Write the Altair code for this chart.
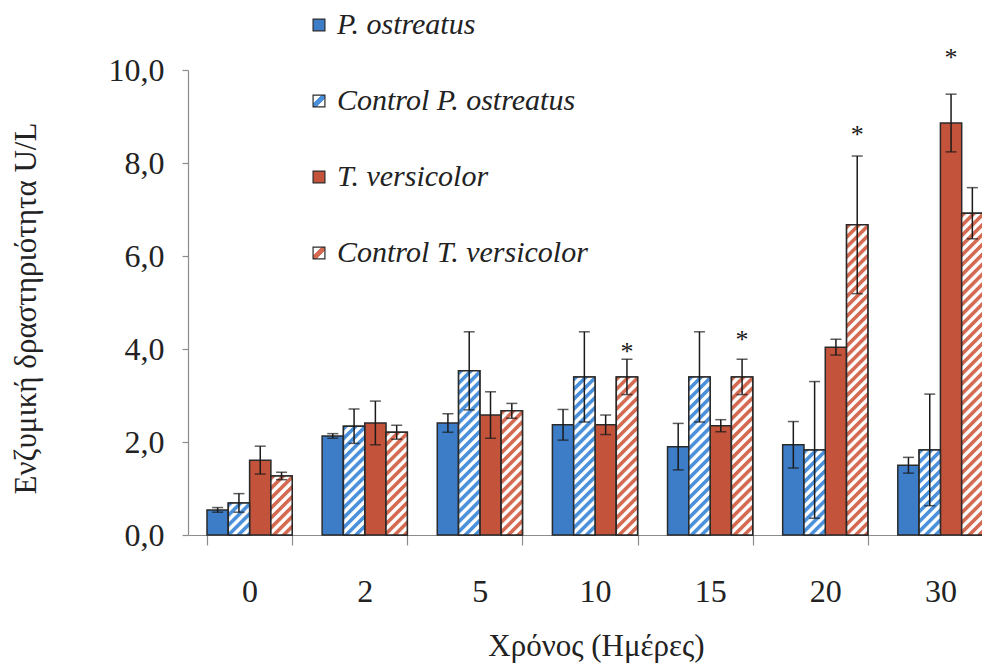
import altair as alt
import pandas as pd
from urllib.parse import quote

# ---------------- data ----------------
days = ["0", "2", "5", "10", "15", "20", "30"]
series = ["P. ostreatus", "Control P. ostreatus", "T. versicolor", "Control T. versicolor"]

po = [0.54, 2.13, 2.41, 2.37, 1.90, 1.94, 1.50]
po_err = [0.05, 0.05, 0.20, 0.33, 0.50, 0.50, 0.17]
cpo = [0.69, 2.34, 3.53, 3.40, 3.40, 1.83, 1.83]
cpo_err = [0.20, 0.37, 0.84, 0.97, 0.97, 1.47, 1.20]
tv = [1.61, 2.41, 2.58, 2.37, 2.35, 4.04, 8.86]
tv_err = [0.30, 0.47, 0.50, 0.21, 0.13, 0.17, 0.62]
ctv = [1.27, 2.21, 2.67, 3.40, 3.40, 6.67, 6.92]
ctv_err = [0.08, 0.15, 0.16, 0.38, 0.38, 1.48, 0.55]

star_days = ["10", "15", "20", "30"]
star_series = ["Control T. versicolor", "Control T. versicolor", "Control T. versicolor", "T. versicolor"]
star_y = [4.04, 4.30, 8.71, 10.37]

# ---------------- styles ----------------
BLUE = "#3d7cc7"
RED = "#c4533b"
BLUE_H = "#4b90da"
RED_H = "#d46a52"
EDGE = "#2a2a2a"
FONT = "Liberation Serif, Times New Roman, serif"


def hatch_uri(color):
    svg = (
        "<svg xmlns='http://www.w3.org/2000/svg' width='100%' height='100%'>"
        "<defs><pattern id='h' width='7' height='7' patternUnits='userSpaceOnUse' "
        "patternTransform='rotate(45)'>"
        "<rect width='7' height='7' fill='white'/>"
        f"<rect width='3.6' height='7' fill='{color}'/>"
        "</pattern></defs>"
        "<rect width='100%' height='100%' fill='url(#h)'/></svg>"
    )
    return "data:image/svg+xml," + quote(svg)


def grad_expr(color):
    return (
        "{gradient: 'linear', x1: 0, y1: 0, x2: 1, y2: 1, stops: ["
        "{offset: 0, color: 'white'}, {offset: 0.36, color: 'white'}, "
        f"{{offset: 0.36, color: '{color}'}}, {{offset: 0.64, color: '{color}'}}, "
        "{offset: 0.64, color: 'white'}, {offset: 1, color: 'white'}]}"
    )


vals = {series[0]: (po, po_err), series[1]: (cpo, cpo_err),
        series[2]: (tv, tv_err), series[3]: (ctv, ctv_err)}
hatch_color = {series[1]: BLUE_H, series[3]: RED_H}

rows = []
for s in series:
    v, e = vals[s]
    for d, val, err in zip(days, v, e):
        rows.append({
            "day": d, "series": s, "value": val, "err": err,
            "lo": val - err, "hi": val + err,
            "hatched": s in hatch_color,
            "url": hatch_uri(hatch_color[s]) if s in hatch_color else "",
        })
df = pd.DataFrame(rows)
df_star = pd.DataFrame({"day": star_days, "series": star_series, "sy": star_y})

x_enc = alt.X(
    "day:N", sort=days,
    scale=alt.Scale(paddingInner=0.26, paddingOuter=0.165, range=[0, 814]),
    axis=alt.Axis(
        title="Χρόνος (Ημέρες)", labelAngle=0, tickBand="extent", tickSize=10,
        labelPadding=31, labelFontSize=32, labelFont=FONT, labelColor="#222",
        titleFont=FONT, titleFontSize=31, titleFontWeight="normal", titleColor="#222",
        titleX=408, titleY=111, titleBaseline="middle", titleAlign="center",
        domainColor="#8c8c8c", tickColor="#8c8c8c", domainWidth=1.2, tickWidth=1.2,
    ),
)
xo_enc = alt.XOffset("series:N", sort=series,
                     scale=alt.Scale(domain=series, paddingInner=0, paddingOuter=0))
y_scale = alt.Scale(domain=[0, 10], nice=False, zero=True)
y_axis = alt.Axis(
    values=[0, 2, 4, 6, 8, 10],
    labelExpr="replace(format(datum.value, '.1f'), '.', ',')",
    tickSize=6, labelPadding=18, labelFontSize=32, labelFont=FONT, labelColor="#222",
    title="Ενζυμική δραστηριότητα  U/L", titleFont=FONT, titleFontSize=31,
    titleFontWeight="normal", titleColor="#222",
    titleX=-162, titleY=238, titleAngle=270, titleAlign="center", titleBaseline="middle",
    grid=False, domainColor="#8c8c8c", tickColor="#8c8c8c", domainWidth=1.2, tickWidth=1.2,
)

base = alt.Chart(df)

bars = base.mark_bar(stroke=EDGE, strokeWidth=1.5).encode(
    x=x_enc, xOffset=xo_enc,
    y=alt.Y("value:Q", scale=y_scale, axis=y_axis),
    fill=alt.Fill(
        "series:N", sort=series,
        scale=alt.Scale(domain=series,
                        range=[BLUE, alt.ExprRef(grad_expr(BLUE_H)),
                               RED, alt.ExprRef(grad_expr(RED_H))]),
        legend=alt.Legend(
            title=None, orient="none", legendX=116, legendY=-60,
            symbolType="square", symbolSize=140, rowPadding=46,
            labelFontSize=30, labelFont=FONT, labelFontStyle="italic", labelColor="#222",
            labelOffset=3, labelLimit=0, symbolStrokeColor=EDGE, symbolStrokeWidth=1.2,
            padding=0, symbolOpacity=1,
        ),
    ),
)

images = base.transform_filter("datum.hatched").mark_image(aspect=False).encode(
    x=x_enc, xOffset=xo_enc,
    y=alt.Y("value:Q", scale=y_scale),
    y2=alt.datum(0),
    url="url:N",
)

outline = base.transform_filter("datum.hatched").mark_bar(
    fillOpacity=0, stroke=EDGE, strokeWidth=1.5
).encode(x=x_enc, xOffset=xo_enc, y=alt.Y("value:Q", scale=y_scale))

rule = base.mark_rule(color="#1a1a1a", strokeWidth=1.5).encode(
    x=x_enc, xOffset=xo_enc, y=alt.Y("lo:Q", scale=y_scale), y2="hi:Q")
cap_hi = base.mark_tick(color="#1a1a1a", thickness=1.5, size=11).encode(
    x=x_enc, xOffset=xo_enc, y=alt.Y("hi:Q", scale=y_scale))
cap_lo = base.mark_tick(color="#1a1a1a", thickness=1.5, size=11).encode(
    x=x_enc, xOffset=xo_enc, y=alt.Y("lo:Q", scale=y_scale))

stars = alt.Chart(df_star).mark_text(
    text="*", fontSize=26, font=FONT, color="#1a1a1a", baseline="middle", dy=5
).encode(x=x_enc, xOffset=xo_enc, y=alt.Y("sy:Q", scale=y_scale))

chart = alt.layer(bars, images, outline, rule, cap_hi, cap_lo, stars).properties(
    width=794, height=465,
    autosize=alt.AutoSizeParams(type="none"),
    padding={"left": 180, "top": 62, "right": 0, "bottom": 128},
    background="white",
).configure_view(stroke=None).configure_legend(
    labelFont=FONT, labelFontStyle="italic", labelLimit=0
)

chart.save("out.html", embed_options={"renderer": "svg", "actions": False})
